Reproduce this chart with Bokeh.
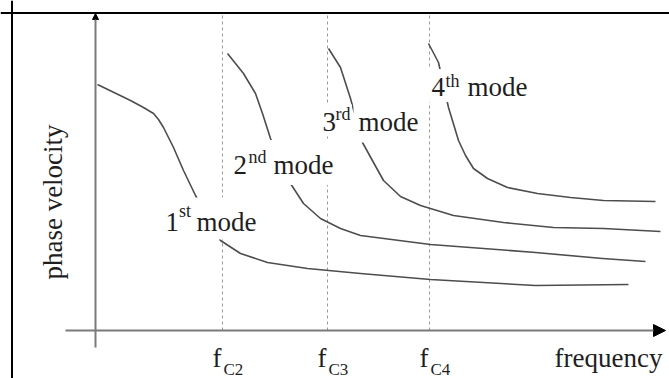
from bokeh.plotting import figure
from bokeh.models import Range1d, Label, Span, Arrow, NormalHead, ColumnDataSource
from bokeh.core.properties import value
from bokeh.embed import file_html
from bokeh.resources import INLINE

# ---- data (arbitrary units: frequency on x, phase velocity on y) ----
mode1_freq = [2, 35, 48, 58, 63, 68, 78, 88, 100, 125, 145, 172, 212, 265, 335, 440, 533]
mode1_vel = [246, 230, 223, 217, 211, 203, 183, 160, 135, 90, 77, 68, 62, 57, 51, 45, 46]

mode2_freq = [132, 148, 160, 167, 175, 195, 208, 225, 245, 265, 335, 440, 507, 550]
mode2_vel = [277, 257, 237, 217, 192, 147, 127, 112, 102, 95, 86, 78, 72, 69]

mode3_freq = [233, 245, 255, 267, 278, 288, 305, 325, 358, 408, 458, 508, 565]
mode3_vel = [282, 263, 232, 188, 168, 150, 134, 125, 115, 108, 103, 102, 99]

mode4_freq = [333, 343, 353, 363, 370, 378, 392, 412, 442, 475, 508, 560]
mode4_vel = [287, 268, 223, 190, 175, 162, 152, 143, 137, 133, 130, 129]

cutoff_freq = [127, 232, 334]
cutoff_sub = ["C2", "C3", "C4"]

mode_num = ["1", "2", "3", "4"]
mode_sfx = ["st", "nd", "rd", "th"]

FONT = "Liberation Serif"
TXT = "#1e1e1e"
CURVE = "#4d4d4d"

p = figure(width=669, height=378, output_backend="svg", toolbar_location=None,
           x_range=Range1d(-95, 574), y_range=Range1d(-48, 330),
           x_axis_location=None, y_axis_location=None, min_border=0)
p.grid.visible = False
p.outline_line_color = None
p.background_fill_color = "white"
p.border_fill_color = "white"

# frame border (left and top edges visible)
p.add_layout(Span(location=-83.5, dimension="height", line_color="black", line_width=2))
p.add_layout(Span(location=317.5, dimension="width", line_color="black", line_width=2))

# dashed cut-off lines
src_c = ColumnDataSource(dict(x=cutoff_freq, y0=[0] * 3, y1=[318] * 3,
                              f=["f"] * 3, sub=cutoff_sub))
p.segment(x0="x", y0="y0", x1="x", y1="y1", source=src_c,
          line_color="#9a9a9a", line_width=1, line_dash="3 3")

# dispersion curves
for fx, vy in [(mode1_freq, mode1_vel), (mode2_freq, mode2_vel),
               (mode3_freq, mode3_vel), (mode4_freq, mode4_vel)]:
    p.line(fx, vy, line_color=CURVE, line_width=1.6, line_join="round")

# axes with arrows
p.add_layout(Arrow(end=NormalHead(size=12, fill_color="black", line_color="black"),
                   x_start=-30, y_start=0, x_end=570, y_end=0,
                   line_color="#7a7a7a", line_width=2))
p.add_layout(Arrow(end=NormalHead(size=6, fill_color="black", line_color="black"),
                   x_start=0, y_start=-17, x_end=0, y_end=317,
                   line_color="#7a7a7a", line_width=2))

# mode labels: (digit x, baseline y, sup x, sup y, mode-word x, pad top, pad bottom)
label_pos = [(70, 112, 83.5, 119.7, 101, 9, 3),
             (138, 168, 153, 173.7, 178, 10, 5),
             (227, 210, 240, 216.7, 263, 8, 6),
             (336, 245, 350, 249.7, 372, 9, 6)]
for (dx, by, sx, sy, mx, pt, pb), num, sfx in zip(label_pos, mode_num, mode_sfx):
    p.add_layout(Label(x=dx - 3, y=by, text=num, text_font=FONT, text_font_size="27px",
                       text_color=TXT, text_align="left", text_baseline="alphabetic",
                       background_fill_color="white",
                       padding=dict(left=3, right=16, top=pt, bottom=pb)))
    p.add_layout(Label(x=mx - 5, y=by, text="mode", text_font=FONT, text_font_size="27px",
                       text_color=TXT, text_align="left", text_baseline="alphabetic",
                       background_fill_color="white",
                       padding=dict(left=5, right=6, top=pt, bottom=pb)))
    p.add_layout(Label(x=sx, y=sy, text=sfx, text_font=FONT,
                       text_font_size="18px", text_color=TXT, text_align="left",
                       text_baseline="alphabetic"))

# cut-off tick labels
p.text(x="x", y=-27, text="f", source=src_c, text_font=value(FONT),
       text_font_size="27px", text_color=TXT, text_align="right",
       text_baseline="alphabetic", x_offset=-1)
p.text(x="x", y=-38.7, text="sub", source=src_c, text_font=value(FONT),
       text_font_size="17px", text_color=TXT, text_align="left",
       text_baseline="alphabetic", x_offset=1)

# axis titles
p.add_layout(Label(x=567, y=-27, text="frequency", text_font=FONT, text_font_size="27px",
                   text_color=TXT, text_align="right", text_baseline="alphabetic"))
p.add_layout(Label(x=-43, y=128.5, text="phase velocity", text_font=FONT,
                   text_font_size="27px", text_color=TXT, text_align="center",
                   text_baseline="alphabetic", angle=90, angle_units="deg"))

open("out.html", "w").write(file_html(p, INLINE))
